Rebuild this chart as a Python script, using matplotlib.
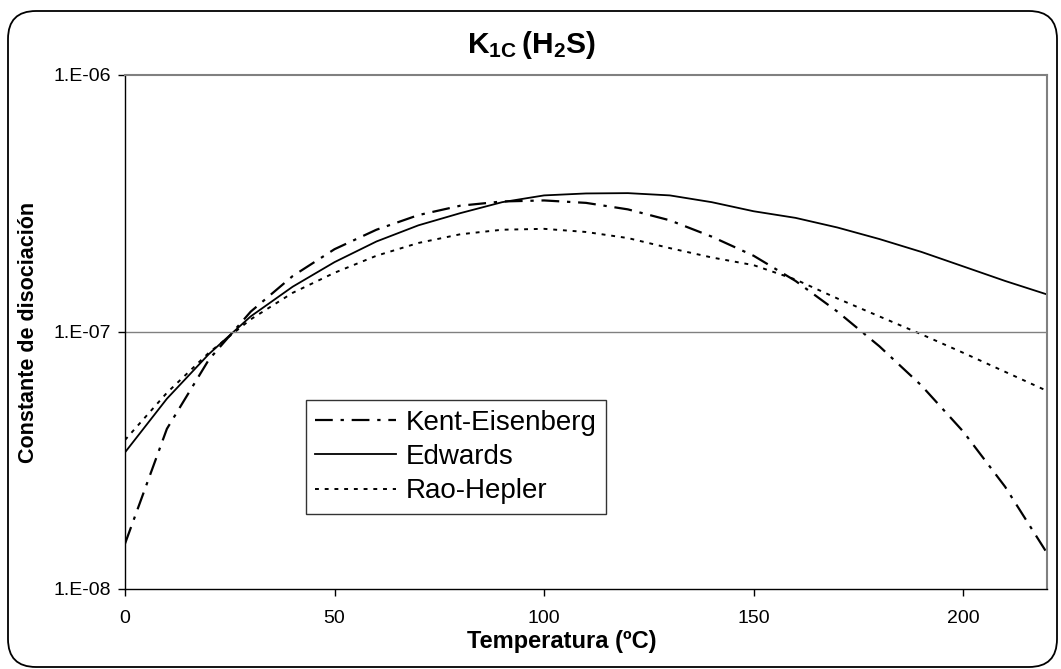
import math
import matplotlib
matplotlib.use("Agg")
import matplotlib.pyplot as plt
from matplotlib.patches import FancyBboxPatch
from matplotlib.ticker import FixedLocator, FuncFormatter, NullLocator

plt.rcParams['font.family'] = ['Liberation Sans', 'DejaVu Sans']
plt.rcParams['mathtext.fontset'] = 'custom'
plt.rcParams['mathtext.bf'] = 'Liberation Sans:bold'
plt.rcParams['mathtext.rm'] = 'Liberation Sans'

# Datos
temp = [0, 10, 20, 30, 40, 50, 60, 70, 80, 90, 100, 110, 120, 130, 140, 150,
        160, 170, 180, 190, 200, 210, 220]
kent_eisenberg = [1.5e-8, 4.2e-8, 7.8e-8, 1.2e-7, 1.65e-7, 2.1e-7, 2.5e-7, 2.85e-7,
                  3.1e-7, 3.22e-7, 3.25e-7, 3.18e-7, 3.0e-7, 2.72e-7, 2.35e-7, 1.98e-7,
                  1.58e-7, 1.2e-7, 8.8e-8, 6.2e-8, 4.1e-8, 2.5e-8, 1.38e-8]
edwards = [3.4e-8, 5.5e-8, 8.2e-8, 1.15e-7, 1.5e-7, 1.87e-7, 2.25e-7, 2.6e-7,
           2.9e-7, 3.2e-7, 3.4e-7, 3.46e-7, 3.47e-7, 3.4e-7, 3.2e-7, 2.95e-7,
           2.78e-7, 2.55e-7, 2.3e-7, 2.05e-7, 1.8e-7, 1.58e-7, 1.4e-7]
rao_hepler = [3.8e-8, 5.8e-8, 8.3e-8, 1.12e-7, 1.42e-7, 1.7e-7, 1.98e-7, 2.22e-7,
              2.4e-7, 2.5e-7, 2.52e-7, 2.45e-7, 2.32e-7, 2.12e-7, 1.95e-7, 1.82e-7,
              1.6e-7, 1.35e-7, 1.15e-7, 9.8e-8, 8.3e-8, 7.0e-8, 5.9e-8]
y_ticks = [1e-8, 1e-7, 1e-6]
x_ticks = [0, 50, 100, 150, 200]

fig = plt.figure(figsize=(10.61, 6.69), dpi=100)
# marco redondeado (en pulgadas)
marco = FancyBboxPatch((0.08, 0.02), 10.49, 6.56, boxstyle="round,pad=0,rounding_size=0.28",
                       transform=fig.dpi_scale_trans, facecolor='none', edgecolor='black',
                       linewidth=1.3, zorder=-1)
fig.patches.append(marco)

ax = fig.add_axes([0.1178, 0.1196, 0.8690, 0.7683])
ax.set_facecolor('none')

ax.plot(temp, kent_eisenberg, color='black', lw=1.6, linestyle=(0, (8, 3.5, 1.5, 3.5)),
        label='Kent-Eisenberg')
ax.plot(temp, edwards, color='black', lw=1.3, linestyle='-', label='Edwards')
ax.plot(temp, rao_hepler, color='black', lw=1.4, linestyle=(0, (2, 3)), label='Rao-Hepler')

ax.set_yscale('log')
ax.set_xlim(0, 220)
ax.set_ylim(1e-8, 1e-6)
ax.yaxis.set_major_locator(FixedLocator(y_ticks))
ax.yaxis.set_minor_locator(NullLocator())
ax.yaxis.set_major_formatter(FuncFormatter(lambda v, p: "1.E-%02d" % round(-math.log10(v))))
ax.set_xticks(x_ticks)
ax.axhline(1e-7, color='#808080', lw=1)

for s in ['top', 'right']:
    ax.spines[s].set_color('#808080')
    ax.spines[s].set_linewidth(1.5)
for s in ['left', 'bottom']:
    ax.spines[s].set_color('black')
    ax.spines[s].set_linewidth(1)

ax.tick_params(axis='both', direction='out', length=5, width=1, labelsize=14)
ax.tick_params(axis='x', pad=10)
ax.tick_params(axis='y', pad=5)

ax.set_xlabel('Temperatura (ºC)', fontsize=17, fontweight='bold', va='center')
ax.xaxis.set_label_coords(0.474, -0.103)
ax.set_ylabel('Constante de disociación', fontsize=15.5, fontweight='bold', va='center')
ax.yaxis.set_label_coords(-0.105, 0.5)
fig.text(0.501, 0.932, r'$\mathbf{K_{1C}\,(H_2S)}$', ha='center', va='center', fontsize=21.5)

leg = ax.legend(loc='lower left', bbox_to_anchor=(0.196, 0.146), fontsize=20, frameon=True,
                fancybox=False, handlelength=2.9, borderpad=0.35, labelspacing=0.3,
                handletextpad=0.35, borderaxespad=0)
leg.get_frame().set_edgecolor('black')
leg.get_frame().set_linewidth(1)

fig.savefig('out.png', dpi=100)
